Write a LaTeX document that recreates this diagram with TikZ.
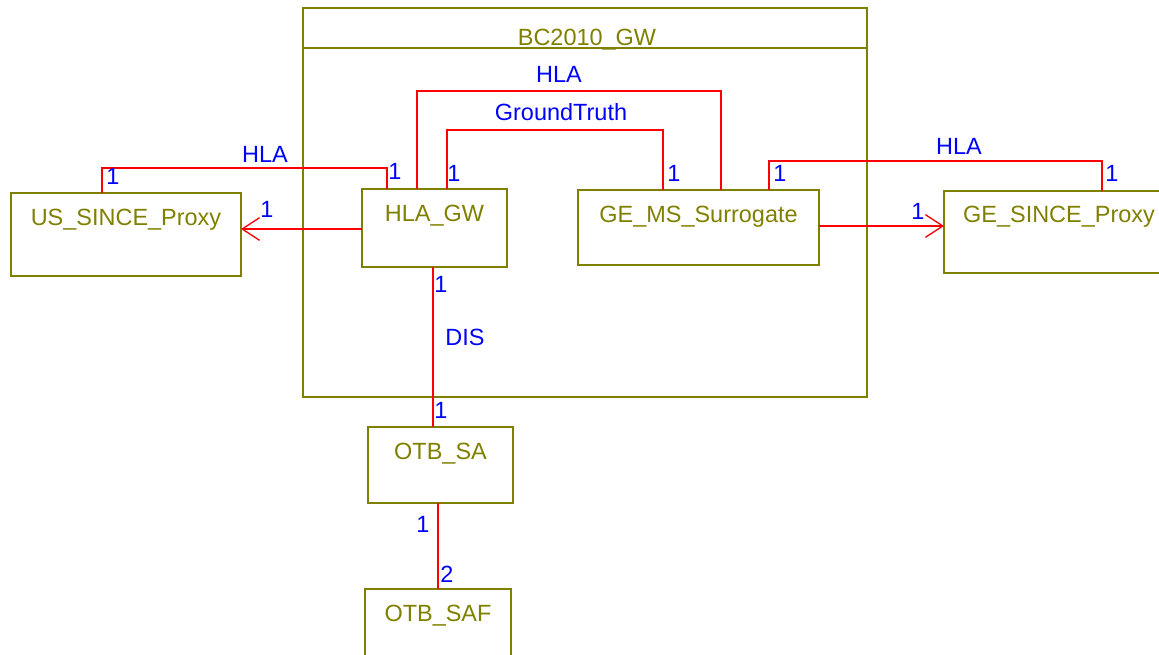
\documentclass[tikz,border=0pt]{standalone}
\usepackage{fontspec}
\setmainfont{Liberation Sans}
\usetikzlibrary{arrows.meta,calc}
\definecolor{boxol}{RGB}{128,128,0}
\definecolor{lnred}{RGB}{255,0,0}
\definecolor{lbblue}{RGB}{0,0,255}
\tikzset{
  box/.style={draw=boxol, line width=1.1pt, inner sep=0pt, outer sep=0pt, anchor=north west},
  ttext/.style={text=boxol, font=\fontsize{17.6}{20}\selectfont, inner sep=0pt, anchor=base},
  lbl/.style={text=lbblue, font=\fontsize{17.6}{20}\selectfont, inner sep=0pt, anchor=base},
  lblw/.style={lbl, fill=white, inner xsep=0pt, inner ysep=1pt},
  conn/.style={draw=lnred, line width=1pt},
  arr/.style={conn, -{Straight Barb[length=13pt,width=17pt,line width=1pt]}},
}
\begin{document}
\begin{tikzpicture}[x=0.75pt,y=-0.75pt]
\useasboundingbox (0,0) rectangle (1159,655);
% outer package box
\node[box, minimum width=564*0.75pt, minimum height=389*0.75pt] (bc) at (303,8) {};
\draw[draw=boxol, line width=1.1pt] ($(bc.north west)+(0,40)$) coordinate (dv) -- (dv -| bc.east);
\node[ttext] (bct) at (587,46) {BC2010\_GW};
% class boxes
\node[box, minimum width=230*0.75pt, minimum height=83*0.75pt,
  label={[ttext,yshift=-33*0.75pt]north:US\_SINCE\_Proxy}] (us) at (11,193) {};
\node[box, minimum width=145*0.75pt, minimum height=78*0.75pt,
  label={[ttext,yshift=-33*0.75pt]north:HLA\_GW}] (hgw) at (362,189) {};
\node[box, minimum width=241*0.75pt, minimum height=75*0.75pt,
  label={[ttext,yshift=-33*0.75pt]north:GE\_MS\_Surrogate}] (gems) at (578,190) {};
\node[box, minimum width=230*0.75pt, minimum height=82*0.75pt,
  label={[ttext,yshift=-32*0.75pt]north:GE\_SINCE\_Proxy}] (ges) at (944,191) {};
\node[box, minimum width=145*0.75pt, minimum height=76*0.75pt,
  label={[ttext,yshift=-32*0.75pt]north:OTB\_SA}] (osa) at (368,427) {};
\node[box, minimum width=146*0.75pt, minimum height=81*0.75pt,
  label={[ttext,yshift=-32*0.75pt]north:OTB\_SAF}] (osaf) at (365,589) {};
% connectors
\draw[conn] ($(us.north west)+(91,0)$) -- ++(0,-25) -| ($(hgw.north west)+(25,0)$);
\draw[conn] ($(hgw.north west)+(55,0)$) -- ++(0,-98) -| ($(gems.north west)+(143,0)$);
\draw[conn] ($(hgw.north west)+(85,0)$) -- ++(0,-59) -| ($(gems.north west)+(85,0)$);
\draw[conn] ($(gems.north west)+(191,0)$) -- ++(0,-29) -| ($(ges.north west)+(158,0)$);
\draw[arr] ($(hgw.north west)+(0,40)$) coordinate (a1) -- (a1 -| us.east);
\draw[arr] ($(gems.north east)+(0,36)$) coordinate (a2) -- (a2 -| ges.west);
\draw[conn] ($(hgw.south west)+(71,0)$) coordinate (d1) -- (d1 |- osa.north);
\draw[conn] ($(osa.south west)+(70,0)$) coordinate (d2) -- (d2 |- osaf.north);
% labels
\node[lblw] (l1) at (265,163) {HLA};
\node[lbl] (m1) at (113,185) {1};
\node[lbl] (m2) at (395,180) {1};
\node[lbl] (l2) at (559,83) {HLA};
\node[lbl] (l3) at (561,121) {GroundTruth};
\node[lbl] (m3) at (454,182) {1};
\node[lbl] (m4) at (674,182) {1};
\node[lblw] (l4) at (959,155) {HLA};
\node[lbl] (m5) at (780,182) {1};
\node[lbl] (m6) at (1112,182) {1};
\node[lbl] (m7) at (267,218) {1};
\node[lbl] (m8) at (918,220) {1};
\node[lbl] (m9) at (441,293) {1};
\node[lbl] (l5) at (465,346) {DIS};
\node[lbl] (m10) at (441,419) {1};
\node[lbl] (m11) at (423,532) {1};
\node[lbl] (m12) at (447,582) {2};
\end{tikzpicture}
\end{document}
